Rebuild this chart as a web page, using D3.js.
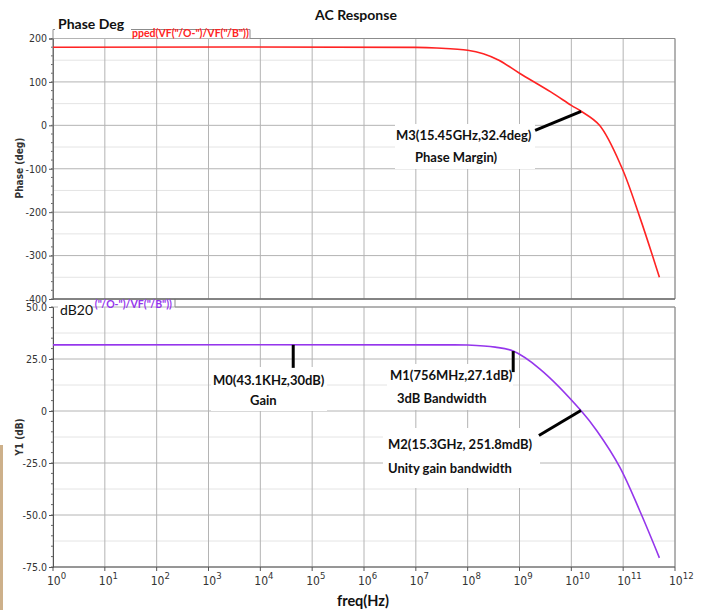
<!DOCTYPE html>
<html>
<head>
<meta charset="utf-8">
<script src="https://cdn.jsdelivr.net/npm/d3@7"></script>
<style>
  body { margin: 0; background: #fff; }
  .lbl { font-family: Lato, "Open Sans", sans-serif; fill: #111; }
  .tick { font-family: "DejaVu Sans Condensed", "DejaVu Sans", sans-serif; font-size: 10.5px; fill: #333; }
</style>
</head>
<body>
<div id="chart"></div>
<script>
// phase curve (deg) vs freq (Hz)
var phaseFreq = [1, 1e7, 2.5e7, 1e8, 2e8, 4e8, 1e9, 4e9, 1e10, 1.545e10, 3.5e10, 9.3e10, 2.1e11, 5e11];
var phaseDeg = [180, 179.5, 178, 173, 165, 150, 120, 77, 46, 32.4, 0, -96, -212, -350];

// gain curve (dB20) vs freq (Hz)
var gainFreq = [1, 3e7, 1e8, 3.4e8, 7.56e8, 2.45e9, 1.53e10, 3.1e10, 8.7e10, 2.1e11, 5e11];
var gainDb = [31.8, 31.8, 31.7, 30.7, 28.8, 20.3, 0.25, -9.5, -27.2, -48.1, -70.6];

var decades = [0, 1, 2, 3, 4, 5, 6, 7, 8, 9, 10, 11, 12];
var phaseTicks = [200, 100, 0, -100, -200, -300, -400];
var gainTicks = [50, 25, 0, -25, -50, -75];

var markerNames = ['M0', 'M1', 'M2', 'M3'];
var markerFreq = [43.1e3, 756e6, 15.3e9, 15.45e9];
var markerPanel = ['gain', 'gain', 'gain', 'phase'];
var markerText = [
  ['M0(43.1KHz,30dB)', 'Gain'],
  ['M1(756MHz,27.1dB)', '3dB Bandwidth'],
  ['M2(15.3GHz, 251.8mdB)', 'Unity gain bandwidth'],
  ['M3(15.45GHz,32.4deg)', 'Phase Margin)']
];

var W = 702, H = 610;
var left = 53, right = 675;

var svg = d3.select('#chart').append('svg')
  .attr('width', W)
  .attr('height', H);

// little tan strip on the left edge
svg.append('rect').attr('x', 0).attr('y', 445).attr('width', 3).attr('height', H - 445)
  .attr('fill', '#cdb08a');

var x = d3.scaleLog().domain([1, 1e12]).range([left, right]);
var yPhase = d3.scaleLinear().domain([-400, 200]).range([299, 38.5]);
var yGain = d3.scaleLinear().domain([-75, 50]).range([567, 307]);

var xMinor = x.ticks(); // 1..9 x 10^n

var drawGrid = function(y, major, minorStep, fmt) {
  var g = svg.append('g');
  var d0 = y.domain();
  var minor = d3.range(d0[0], d0[1] + 0.001, minorStep).filter(function(v) { return major.indexOf(v) < 0; });
  var y0 = y.range()[0], y1 = y.range()[1];

  g.selectAll('line.vmin').data(xMinor.filter(function(f) { return Math.abs(Math.log10(f) % 1) > 1e-6; }))
    .enter().append('line')
    .attr('x1', function(d) { return x(d); }).attr('x2', function(d) { return x(d); })
    .attr('y1', y0).attr('y2', y1)
    .attr('stroke', '#e4e4e4').attr('stroke-width', 1);
  g.selectAll('line.hmin').data(minor)
    .enter().append('line')
    .attr('x1', left).attr('x2', right)
    .attr('y1', function(d) { return y(d); }).attr('y2', function(d) { return y(d); })
    .attr('stroke', '#e4e4e4').attr('stroke-width', 1);
  g.selectAll('line.vmaj').data(decades)
    .enter().append('line')
    .attr('x1', function(d) { return x(Math.pow(10, d)); }).attr('x2', function(d) { return x(Math.pow(10, d)); })
    .attr('y1', y0).attr('y2', y1)
    .attr('stroke', '#b4b4b4').attr('stroke-width', 1);
  g.selectAll('line.hmaj').data(major)
    .enter().append('line')
    .attr('x1', left).attr('x2', right)
    .attr('y1', function(d) { return y(d); }).attr('y2', function(d) { return y(d); })
    .attr('stroke', '#b4b4b4').attr('stroke-width', 1);

  // left axis with ticks
  var ax = d3.axisLeft(y).tickValues(major).tickSize(4).tickPadding(2).tickFormat(fmt);
  var ga = svg.append('g').attr('transform', 'translate(' + left + ',0)').call(ax);
  ga.select('.domain').attr('stroke', '#555');
  ga.selectAll('.tick line').attr('stroke', '#555');
  ga.selectAll('.tick text').attr('class', 'tick').attr('fill', '#333');
  var small = d3.range(d0[0], d0[1] + 0.001, minorStep / 2.5);
  svg.append('g').selectAll('line').data(small).enter().append('line')
    .attr('x1', left - 2).attr('x2', left)
    .attr('y1', function(d) { return y(d); }).attr('y2', function(d) { return y(d); })
    .attr('stroke', '#666');
};

drawGrid(yPhase, phaseTicks, 50, function(d) { return String(d); });
drawGrid(yGain, gainTicks, 12.5, function(d) { return d === 0 ? '0' : d.toFixed(1); });

// panel borders + legend tabs
svg.append('path')
  .attr('d', 'M' + left + ',299 V29.5 H250 V38.5 H' + right + ' V299 Z')
  .attr('fill', 'none').attr('stroke', '#8c8c8c').attr('stroke-width', 1);
svg.append('path')
  .attr('d', 'M175,299 V307 H' + right + ' V567')
  .attr('fill', 'none').attr('stroke', '#8c8c8c').attr('stroke-width', 1);
svg.append('line').attr('x1', left).attr('x2', right).attr('y1', 299).attr('y2', 299)
  .attr('stroke', '#555');
svg.append('line').attr('x1', left).attr('x2', right).attr('y1', 567).attr('y2', 567)
  .attr('stroke', '#555');

// bottom x axis ticks
svg.append('g').selectAll('line').data(xMinor).enter().append('line')
  .attr('x1', function(d) { return x(d); }).attr('x2', function(d) { return x(d); })
  .attr('y1', 567).attr('y2', function(d) { return Math.abs(Math.log10(d) % 1) < 1e-6 ? 571 : 569; })
  .attr('stroke', '#555');

var xl = svg.append('g').selectAll('text').data(decades).enter().append('text')
  .attr('class', 'tick')
  .attr('x', function(d) { return x(Math.pow(10, d)) - 6; })
  .attr('y', 585)
  .style('font-size', '12px');
xl.append('tspan').text('10');
xl.append('tspan').attr('dy', -6).style('font-size', '9.5px').text(function(d) { return d; });

// curves
var phaseLine = d3.line()
  .x(function(d, i) { return x(phaseFreq[i]); })
  .y(function(d) { return yPhase(d); })
  .curve(d3.curveCatmullRom.alpha(0.5));
var gainLine = d3.line()
  .x(function(d, i) { return x(gainFreq[i]); })
  .y(function(d) { return yGain(d); })
  .curve(d3.curveCatmullRom.alpha(0.5));

svg.append('path').attr('d', phaseLine(phaseDeg))
  .attr('fill', 'none').attr('stroke', '#ff2323').attr('stroke-width', 1.6);
svg.append('path').attr('d', gainLine(gainDb))
  .attr('fill', 'none').attr('stroke', '#9536ec').attr('stroke-width', 1.6);

// value on a curve at a given freq (log interpolation)
var valueAt = function(fs, vs, f) {
  var lf = Math.log10(f);
  for (var i = 1; i < fs.length; i++) {
    if (Math.log10(fs[i]) >= lf) {
      var a = Math.log10(fs[i - 1]), b = Math.log10(fs[i]);
      return vs[i - 1] + (vs[i] - vs[i - 1]) * (lf - a) / (b - a);
    }
  }
  return vs[vs.length - 1];
};

// marker label layout: box [x, y, w, h], leader end offset, line x positions
var layout = {
  M0: { box: [211, 367, 116, 44], lead: [0, 23], tx: [213, 250], ty: [385, 405] },
  M1: { box: [387, 364, 126, 46], lead: [0, 21], tx: [390, 397], ty: [380, 403] },
  M2: { box: [383, 428, 157, 60], lead: [-42, 25], tx: [388, 388], ty: [449, 473] },
  M3: { box: [395, 124, 140, 45], lead: [-46, 19], tx: [396, 415], ty: [140, 162] }
};

markerNames.forEach(function(m, i) {
  var L = layout[m];
  var px = x(markerFreq[i]);
  var py = markerPanel[i] === 'phase'
    ? yPhase(valueAt(phaseFreq, phaseDeg, markerFreq[i]))
    : yGain(valueAt(gainFreq, gainDb, markerFreq[i]));
  svg.append('rect').attr('x', L.box[0]).attr('y', L.box[1])
    .attr('width', L.box[2]).attr('height', L.box[3]).attr('fill', '#fff');
  svg.append('line')
    .attr('x1', px).attr('y1', py)
    .attr('x2', px + L.lead[0]).attr('y2', py + L.lead[1])
    .attr('stroke', '#000').attr('stroke-width', 3);
  markerText[i].forEach(function(t, j) {
    svg.append('text').attr('class', 'lbl')
      .attr('x', L.tx[j]).attr('y', L.ty[j])
      .style('font-size', '13px').style('font-weight', 'bold')
      .attr('fill', '#1a1a1a')
      .text(t);
  });
});

// legend tab texts (only the part not hidden by the name patches)
svg.append('text')
  .attr('x', 132).attr('y', 37)
  .attr('fill', '#ff2323')
  .style('font-family', 'Lato, sans-serif').style('font-size', '10.5px').style('font-weight', 'bold')
  .text('pped(VF("/O-")/VF("/B"))');
svg.append('text')
  .attr('x', 172).attr('y', 308).attr('text-anchor', 'end')
  .attr('fill', '#9536ec')
  .style('font-family', 'Lato, sans-serif').style('font-size', '10.5px').style('font-weight', 'bold')
  .text('("/O-")/VF("/B"))');

// white patches with the panel names
svg.append('rect').attr('x', 55).attr('y', 13).attr('width', 76).attr('height', 24).attr('fill', '#fff');
svg.append('text').attr('class', 'lbl').attr('x', 58).attr('y', 29)
  .style('font-size', '14px').style('font-weight', 'bold').text('Phase Deg');
svg.append('rect').attr('x', 58).attr('y', 300).attr('width', 34).attr('height', 17).attr('fill', '#fff');
svg.append('text').attr('class', 'lbl').attr('x', 60).attr('y', 315)
  .style('font-size', '14px').text('dB20');

// titles
svg.append('text').attr('class', 'lbl').attr('x', 356).attr('y', 20).attr('text-anchor', 'middle')
  .style('font-size', '14px').style('font-weight', 'bold').text('AC Response');
svg.append('text').attr('class', 'lbl').attr('x', 363).attr('y', 606).attr('text-anchor', 'middle')
  .style('font-size', '14.5px').style('font-weight', 'bold').text('freq(Hz)');

svg.append('text').attr('class', 'tick')
  .attr('transform', 'translate(23,168) rotate(-90)').attr('text-anchor', 'middle')
  .style('font-weight', 'bold').style('font-size', '10px').text('Phase (deg)');
svg.append('text').attr('class', 'tick')
  .attr('transform', 'translate(23,437) rotate(-90)').attr('text-anchor', 'middle')
  .style('font-weight', 'bold').style('font-size', '10px').text('Y1 (dB)');
</script>
</body>
</html>
